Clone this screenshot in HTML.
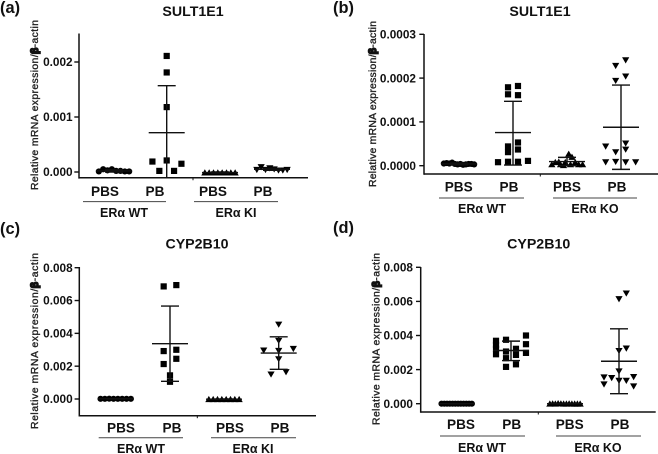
<!DOCTYPE html>
<html>
<head>
<meta charset="utf-8">
<style>
html,body{margin:0;padding:0;background:#fff;}
svg{display:block;font-family:"Liberation Sans",Arial,sans-serif;filter:blur(0.3px);}
</style>
</head>
<body>
<svg id="figure" xmlns="http://www.w3.org/2000/svg" width="658" height="454" viewBox="0 0 658 454"></svg>
<script>
// Panel (a)
const aTicks = [0, 0.001, 0.002];
const aTickLabels = ["0.000", "0.001", "0.002"];
const aCategories = ["PBS", "PB", "PBS", "PB"];
const aGroups = ["ERα WT", "ERα KI"];
const aPbsWtValues = [0.00001, 0.00005, 0.00003, 0.00005, 0.00002, 0.00002, 0.00001, 0.00001];
const aPbsWtSlots = [-3.5, -2.5, -1.5, -0.5, 0.5, 1.5, 2.5, 3.5];
const aPbsWtStats = [0.00002, 0.00004, 0];
const aPbWtValues = [0.00211, 0.00181, 0.00118, 0.00021, 0.00019, 0.00015, 0.00002, 0.00002];
const aPbWtSlots = [0, 0, 0, 0, -3.3, 3.4, -1.7, 1.7];
const aPbWtStats = [0.000715, 0.00157, -0.00014];
const aPbsKiValues = [-0.00001, -0.00001, -0.00001, -0.00001, -0.00001, -0.00001, -0.00001, -0.00001];
const aPbsKiSlots = [-3.5, -2.5, -1.5, -0.5, 0.5, 1.5, 2.5, 3.5];
const aPbsKiStats = [-0.00001, 0, -0.00002];
const aPbKiValues = [0.00004, 0.00009, 0.00004, 0.00007, 0.00005, 0.00003, 0.00003, 0.00004];
const aPbKiSlots = [-3.5, -2.5, -1.5, -0.5, 0.5, 1.5, 2.5, 3.5];
const aPbKiStats = [0.00005, 0.00007, 0.00003];

// Panel (b)
const bTicks = [0, 0.0001, 0.0002, 0.0003];
const bTickLabels = ["0.0000", "0.0001", "0.0002", "0.0003"];
const bCategories = ["PBS", "PB", "PBS", "PB"];
const bGroups = ["ERα WT", "ERα KO"];
const bPbsWtValues = [0.000005, 0.000006, 0.000005, 0.000007, 0.000004, 0.000003, 0.000004, 0.000002, 0.000003, 0.000004, 0.000004, 0.000003];
const bPbsWtSlots = [-3.5, -2.86, -2.23, -1.59, -0.95, -0.32, 0.32, 0.95, 1.59, 2.23, 2.86, 3.5];
const bPbsWtStats = [0.000004, 0.000006, 0.000002];
const bPbWtValues = [0.000179, 0.000182, 0.000163, 0.000161, 0.000053, 0.000044, 0.000037, 0.000031, 0.000008, 0.000009, 0.000009, 0.000011];
const bPbWtSlots = [-1.15, 1.15, -1.15, 1.15, 1.15, -1.15, 1.15, -1.15, -3.46, -1.15, 1.15, 3.46];
const bPbWtStats = [0.0000756, 0.000147, 0.0000015];
const bPbsKoValues = [0.000027, 0.00002, 0.000008, 0.000008, 0.000008, 0.000003, 0.000003, 0.000001, 0.000003, 0.000003, 0.000003, 0.000009];
const bPbsKoSlots = [0.4, 1.15, -2.7, -0.4, 1.9, -3.5, -1.5, -0.8, 0.8, 2.7, 3.6, -1.9];
const bPbsKoStats = [0.0000095, 0.000019, 0];
const bPbKoValues = [0.000241, 0.000228, 0.000204, 0.000194, 0.000051, 0.000031, 0.000037, 0.000044, 0.000008, 0.000009, 0.000008, 0.000008];
const bPbKoSlots = [1.08, -1.23, 1.08, -1.23, 1.08, -1.23, 1.08, -3.54, -3.54, -1.23, 1.08, 3.38];
const bPbKoStats = [0.0000878, 0.000184, -0.0000084];

// Panel (c)
const cTicks = [0, 0.002, 0.004, 0.006, 0.008];
const cTickLabels = ["0.000", "0.002", "0.004", "0.006", "0.008"];
const cCategories = ["PBS", "PB", "PBS", "PB"];
const cGroups = ["ERα WT", "ERα KI"];
const cPbsWtValues = [0.00001, 0.00001, 0.00002, 0.00001, 0.00001, 0.00001, 0.00001, 0.00001];
const cPbsWtSlots = [-3.5, -2.5, -1.5, -0.5, 0.5, 1.5, 2.5, 3.5];
const cPbsWtStats = [0.00001, 0.00002, 0];
const cPbWtValues = [0.00686, 0.00694, 0.00292, 0.003, 0.00245, 0.00213, 0.00144, 0.00105];
const cPbWtSlots = [-1.46, 1.46, -1.46, 1.46, 1.46, -1.46, 0, 0];
const cPbWtStats = [0.00337, 0.00566, 0.00108];
const cPbsKiValues = [-0.00001, -0.00001, -0.00001, -0.00001, -0.00001, -0.00001, -0.00001, -0.00001];
const cPbsKiSlots = [-3.5, -2.5, -1.5, -0.5, 0.5, 1.5, 2.5, 3.5];
const cPbsKiStats = [-0.00001, 0, -0.00002];
const cPbKiValues = [0.00454, 0.00355, 0.00296, 0.00306, 0.00294, 0.00243, 0.0015, 0.00164];
const cPbKiSlots = [0, 0, -3.46, 3.38, 0, 0, -1.77, 1.69];
const cPbKiStats = [0.0028, 0.00379, 0.00181];

// Panel (d)
const dTicks = [0, 0.002, 0.004, 0.006, 0.008];
const dTickLabels = ["0.000", "0.002", "0.004", "0.006", "0.008"];
const dCategories = ["PBS", "PB", "PBS", "PB"];
const dGroups = ["ERα WT", "ERα KO"];
const dPbsWtValues = [0, 0, 0, 0, 0, 0, 0, 0, 0, 0, 0, 0];
const dPbsWtSlots = [-3.5, -2.86, -2.23, -1.59, -0.95, -0.32, 0.32, 0.95, 1.59, 2.23, 2.86, 3.5];
const dPbsWtStats = [0, 0.00001, -0.00001];
const dPbWtValues = [0.00369, 0.00345, 0.00322, 0.0029, 0.00375, 0.00306, 0.00267, 0.00216, 0.00322, 0.00286, 0.00231, 0.004, 0.00349, 0.00298];
const dPbWtSlots = [-3.46, -3.46, -3.46, -3.46, -1.15, -1.15, -1.15, -1.15, 1.15, 1.15, 1.15, 3.46, 3.46, 3.46];
const dPbWtStats = [0.00312, 0.00367, 0.00253];
const dPbsKoValues = [0, 0.00001, 0, 0.00002, 0.00001, 0, 0, 0.00001, 0, 0, 0, 0];
const dPbsKoSlots = [-3.5, -2.86, -2.23, -1.59, -0.95, -0.32, 0.32, 0.95, 1.59, 2.23, 2.86, 3.5];
const dPbsKoStats = [0, 0.00001, -0.00001];
const dPbKoValues = [0.00647, 0.00614, 0.00324, 0.0031, 0.0019, 0.00155, 0.00151, 0.00135, 0.00135, 0.00157, 0.00114, 0.00102];
const dPbKoSlots = [1.69, 0, 1.69, 0, 0, -3.46, -1.69, 0, 1.69, 3.38, -3.46, 3.38];
const dPbKoStats = [0.00249, 0.00439, 0.00059];

const panels = [
  {id:"a", letter:"(a)", letterX:0, letterY:13, title:"SULT1E1", titleX:193, titleY:16,
   axisX:79, axisTop:33.5, axisBottom:177.8, axisRight:308, zeroY:172, topValue:0.002, topY:62,
   centers:[114, 166.7, 220, 272], labelX:[105, 155, 213, 263], labelY:196,
   lineY:201.6, lines:[[83,166],[194,278]], groupX:[124,236], groupY:217,
   midTick:193, titleAxisX:38, titleYBottom:190, titleYTop:20, tickRight:72.6,
   ticks:aTicks, tickLabels:aTickLabels, categories:aCategories, groups:aGroups,
   series:[
    {name:"pbs-wt", shape:"circle", values:aPbsWtValues, slots:aPbsWtSlots, stats:aPbsWtStats},
    {name:"pb-wt", shape:"square", values:aPbWtValues, slots:aPbWtSlots, stats:aPbWtStats},
    {name:"pbs-ki", shape:"up", values:aPbsKiValues, slots:aPbsKiSlots, stats:aPbsKiStats},
    {name:"pb-ki", shape:"down", values:aPbKiValues, slots:aPbKiSlots, stats:aPbKiStats}
   ]},
  {id:"b", letter:"(b)", letterX:333, letterY:13, title:"SULT1E1", titleX:540, titleY:16,
   axisX:424, axisTop:34, axisBottom:174, axisRight:658, zeroY:165.7, topValue:0.0003, topY:34.3,
   centers:[459, 513, 567, 621], labelX:[458.7, 509, 567, 617], labelY:191.5,
   lineY:198, lines:[[439,524],[553,637]], groupX:[482,595], groupY:213,
   midTick:540.3, titleAxisX:376, titleYBottom:187, titleYTop:21, tickRight:416,
   ticks:bTicks, tickLabels:bTickLabels, categories:bCategories, groups:bGroups,
   series:[
    {name:"pbs-wt", shape:"circle", values:bPbsWtValues, slots:bPbsWtSlots, stats:bPbsWtStats},
    {name:"pb-wt", shape:"square", values:bPbWtValues, slots:bPbWtSlots, stats:bPbWtStats},
    {name:"pbs-ko", shape:"up", values:bPbsKoValues, slots:bPbsKoSlots, stats:bPbsKoStats},
    {name:"pb-ko", shape:"down", values:bPbKoValues, slots:bPbKoSlots, stats:bPbKoStats}
   ]},
  {id:"c", letter:"(c)", letterX:0, letterY:234, title:"CYP2B10", titleX:197, titleY:248.5,
   axisX:79.3, axisTop:267, axisBottom:415.7, axisRight:316, zeroY:399, topValue:0.008, topY:267.7,
   centers:[115.7, 170, 224, 278.7], labelX:[121, 172, 230, 280], labelY:432.5,
   lineY:437.7, lines:[[98.7,183],[211,296]], groupX:[141,253], groupY:453,
   midTick:197.3, titleAxisX:38, titleYBottom:429, titleYTop:253, tickRight:72.7,
   ticks:cTicks, tickLabels:cTickLabels, categories:cCategories, groups:cGroups,
   series:[
    {name:"pbs-wt", shape:"circle", values:cPbsWtValues, slots:cPbsWtSlots, stats:cPbsWtStats},
    {name:"pb-wt", shape:"square", values:cPbWtValues, slots:cPbWtSlots, stats:cPbWtStats},
    {name:"pbs-ki", shape:"up", values:cPbsKiValues, slots:cPbsKiSlots, stats:cPbsKiStats},
    {name:"pb-ki", shape:"down", values:cPbKiValues, slots:cPbKiSlots, stats:cPbKiStats}
   ]},
  {id:"d", letter:"(d)", letterX:333, letterY:233, title:"CYP2B10", titleX:538.7, titleY:248.5,
   axisX:420.7, axisTop:267, axisBottom:412, axisRight:655.7, zeroY:403.7, topValue:0.008, topY:267.3,
   centers:[456.7, 511, 565, 619], labelX:[461, 511.7, 569.7, 620], labelY:429,
   lineY:436, lines:[[440,525],[556,641]], groupX:[482,598], groupY:452,
   midTick:538.3, titleAxisX:379.5, titleYBottom:425, titleYTop:253, tickRight:413,
   ticks:dTicks, tickLabels:dTickLabels, categories:dCategories, groups:dGroups,
   series:[
    {name:"pbs-wt", shape:"circle", values:dPbsWtValues, slots:dPbsWtSlots, stats:dPbsWtStats},
    {name:"pb-wt", shape:"square", values:dPbWtValues, slots:dPbWtSlots, stats:dPbWtStats},
    {name:"pbs-ko", shape:"up", values:dPbsKoValues, slots:dPbsKoSlots, stats:dPbsKoStats},
    {name:"pb-ko", shape:"down", values:dPbKoValues, slots:dPbKoSlots, stats:dPbKoStats}
   ]}
];

const NS = "http://www.w3.org/2000/svg";
const INK = "#111";
const SLOT_PX = 4.33;
const svg = document.getElementById("figure");

function make(tag, attrs, parent, text) {
  const el = document.createElementNS(NS, tag);
  for (const k in attrs) el.setAttribute(k, attrs[k]);
  if (text !== undefined) el.textContent = text;
  parent.appendChild(el);
  return el;
}

function drawMarker(g, shape, x, y) {
  if (shape === "square") return make("rect", {x:x-3.1, y:y-3.1, width:6.2, height:6.2, fill:"#000"}, g);
  if (shape === "circle") return make("circle", {cx:x, cy:y, r:3.1, fill:"#000"}, g);
  const d = shape === "up" ? 1 : -1;
  return make("polygon", {points:`${x},${y-3.3*d} ${x-3.6},${y+2.9*d} ${x+3.6},${y+2.9*d}`, fill:"#000"}, g);
}

panels.forEach(function (p) {
  const yScale = function (v) { return p.zeroY + (p.topY - p.zeroY) * (v / p.topValue); };
  const xScale = function (i) { return p.centers[i]; };

  const g = make("g", {}, svg);
  
  

  const letter = make("text", {x:p.letterX, y:p.letterY, "font-size":16.4, "font-weight":"bold", fill:"#111"}, g, p.letter);
  
  

  const title = make("text", {x:p.titleX, y:p.titleY, "font-size":14.2, "font-weight":"bold", "text-anchor":"middle", fill:"#111"}, g, p.title);
  
  

  const yAxis = make("line", {x1:p.axisX, x2:p.axisX, y1:p.axisTop, y2:p.axisBottom+0.8, stroke:INK, "stroke-width":1.5}, g);
  
  

  const xAxis = make("line", {x1:p.axisX, x2:p.axisRight, y1:p.axisBottom, y2:p.axisBottom, stroke:INK, "stroke-width":1.5}, g);
  
  

  const mid = make("line", {x1:p.midTick, x2:p.midTick, y1:p.axisBottom, y2:p.axisBottom+2.5, stroke:INK, "stroke-width":1}, g);
  
  

  p.ticks.forEach(function (t, i) {
    const y = yScale(t);
    const tick = make("line", {x1:p.axisX-4.7, x2:p.axisX, y1:y, y2:y, stroke:INK, "stroke-width":1.4}, g);
    
    
    const lab = make("text", {x:p.tickRight, y:y+4.2, "font-size":11.8, "font-weight":"bold", "text-anchor":"end", fill:"#111"}, g, p.tickLabels[i]);
    
    
  });

  const yMid = (p.titleYBottom + p.titleYTop) / 2;
  const yLen = p.titleYBottom - p.titleYTop;
  const yTitle = make("text", {
    x:0, y:0, "font-size":10.4, fill:"#222", stroke:"#222", "stroke-width":0.35,
    "text-anchor":"middle", textLength:yLen, lengthAdjust:"spacing",
    transform:`translate(${p.titleAxisX},${yMid}) rotate(-90)`
  }, g);
  
  
  make("tspan", {}, yTitle, "Relative mRNA expression/");
  make("tspan", {"font-weight":"bold", stroke:"#111", "stroke-width":1.6}, yTitle, "β");
  make("tspan", {}, yTitle, "-actin");

  p.categories.forEach(function (c, i) {
    const lab = make("text", {x:p.labelX[i], y:p.labelY, "font-size":13.6, "font-weight":"bold", "text-anchor":"middle", fill:"#111"}, g, c);
    
    
  });

  p.groups.forEach(function (name, i) {
    const line = make("line", {x1:p.lines[i][0], x2:p.lines[i][1], y1:p.lineY, y2:p.lineY, stroke:"#444", "stroke-width":1}, g);
    
    
    const lab = make("text", {x:p.groupX[i], y:p.groupY, "font-size":12.5, "font-weight":"bold", "text-anchor":"middle", fill:"#111"}, g, name);
    
    
  });

  p.series.forEach(function (s, i) {
    const sg = make("g", {}, g);
    
    
    const cx = xScale(i);
    s.values.forEach(function (v, j) {
      const m = drawMarker(sg, s.shape, cx + s.slots[j] * SLOT_PX, yScale(v));
      
      
    });
    if (s.stats) {
      const yMean = yScale(s.stats[0]);
      const yHigh = yScale(s.stats[1]);
      const yLowRaw = yScale(s.stats[2]);
      const yLow = Math.min(yLowRaw, p.axisBottom);
      const mean = make("line", {x1:cx-18, x2:cx+18, y1:yMean, y2:yMean, stroke:INK, "stroke-width":1.4}, sg);
      
      
      const bar = make("line", {x1:cx, x2:cx, y1:yHigh, y2:yLow, stroke:INK, "stroke-width":1.4}, sg);
      
      
      const capHigh = make("line", {x1:cx-9, x2:cx+9, y1:yHigh, y2:yHigh, stroke:INK, "stroke-width":1.4}, sg);
      
      
      const capLow = make("line", {x1:cx-9, x2:cx+9, y1:yLow, y2:yLow, stroke:INK, "stroke-width":1.4}, sg);
      
      
    }
  });
});
</script>
</body>
</html>
